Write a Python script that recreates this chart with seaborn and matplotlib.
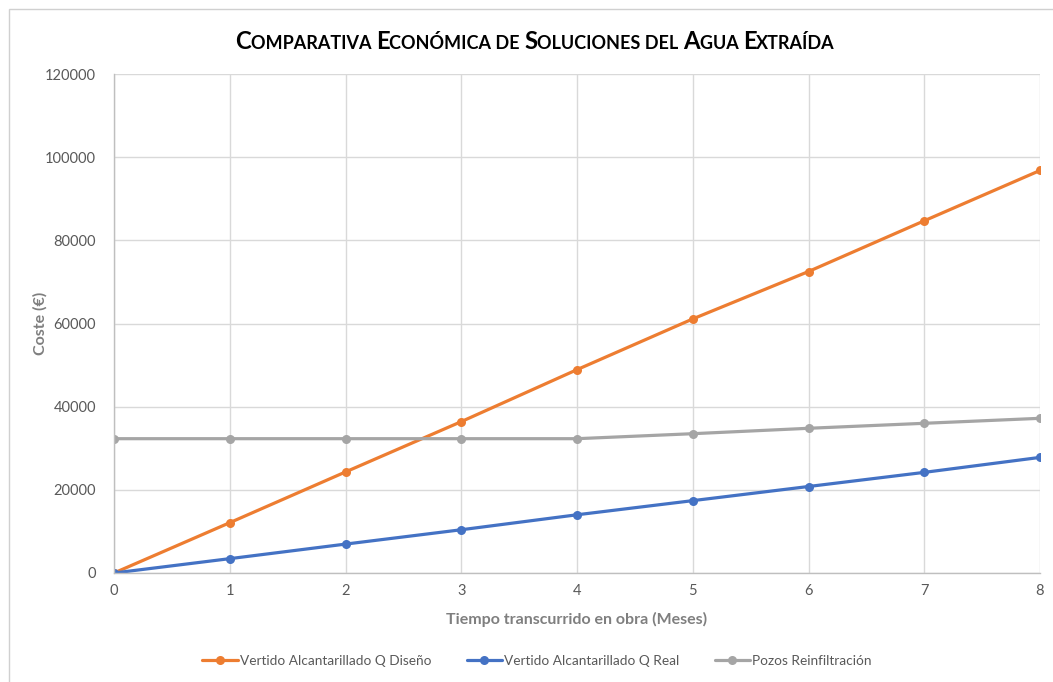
import matplotlib
matplotlib.use("Agg")
import matplotlib.pyplot as plt
import seaborn as sns
import pandas as pd
from matplotlib.patches import Rectangle

# Monthly cost of each water-disposal option (EUR)
meses = [0, 1, 2, 3, 4, 5, 6, 7, 8]
coste_q_diseno = [0, 12100, 24300, 36400, 48900, 61100, 72500, 84700, 96800]
coste_q_real = [0, 3450, 6950, 10400, 14000, 17400, 20800, 24200, 27800]
coste_pozos = [32300, 32300, 32300, 32300, 32300, 33500, 34800, 36000, 37200]

series = ["Vertido Alcantarillado Q Diseño", "Vertido Alcantarillado Q Real", "Pozos Reinfiltración"]
colores = ["#ED7D31", "#4472C4", "#A5A5A5"]

df = pd.concat([
    pd.DataFrame({"Mes": meses, "Coste": coste_q_diseno, "Serie": series[0]}),
    pd.DataFrame({"Mes": meses, "Coste": coste_q_real, "Serie": series[1]}),
    pd.DataFrame({"Mes": meses, "Coste": coste_pozos, "Serie": series[2]}),
])

sns.set_theme(style="white")
plt.rcParams["font.family"] = ["Lato", "DejaVu Sans"]

W, H = 1053, 682
fig = plt.figure(figsize=(W / 100, H / 100), dpi=100)
ax = fig.add_axes([114 / W, 1 - 573 / H, (1040 - 114) / W, (573 - 74) / H])

sns.lineplot(data=df, x="Mes", y="Coste", hue="Serie", hue_order=series,
             palette=colores, marker="o", markersize=6.5, markeredgewidth=0,
             linewidth=2.3, ax=ax, legend=True)

ax.set_xlim(0, 8)
ax.set_ylim(0, 120000)
ax.set_xticks(meses)
ax.set_yticks(range(0, 120001, 20000))
ax.grid(True, color="#d9d9d9", linewidth=1)
ax.set_axisbelow(True)
for s in ["top", "right"]:
    ax.spines[s].set_visible(False)
for s in ["left", "bottom"]:
    ax.spines[s].set_color("#bfbfbf")
    ax.spines[s].set_linewidth(1)
ax.tick_params(axis="both", length=0, labelsize=10.5, labelcolor="#595959", pad=8)
ax.tick_params(axis="y", pad=13)

ax.set_xlabel("Tiempo transcurrido en obra (Meses)", fontsize=11.5, fontweight="bold",
              color="#7f7f7f", labelpad=10)
ax.set_ylabel("Coste (€)", fontsize=11.5, fontweight="bold", color="#7f7f7f", labelpad=-2)

leg = ax.legend(loc="center", bbox_to_anchor=((537 - 114) / 926, (573 - 661) / 499),
                ncol=3, frameon=False, fontsize=9.8, columnspacing=2.6, handlelength=2.6,
                handletextpad=0.15, labelcolor="#595959")

# Chart border
fig.patches.append(Rectangle((9 / W, -0.1), 1.2, 1.1 - 9 / H, transform=fig.transFigure,
                             fill=False, edgecolor="#d0d0d0", linewidth=1))

# Title in small caps: capitals large, lowercase letters as smaller capitals
titulo = "Comparativa Económica de Soluciones del Agua Extraída"
big, small = 17.2, 13
pieces = []
for ch in titulo:
    if ch == " ":
        pieces.append((" ", small))
    elif ch.isupper():
        pieces.append((ch, big))
    else:
        pieces.append((ch.upper(), small))
# merge runs of the same size
runs = []
for txt, sz in pieces:
    if runs and runs[-1][1] == sz:
        runs[-1][0] += txt
    else:
        runs.append([txt, sz])

fig.canvas.draw()
renderer = fig.canvas.get_renderer()
texts = []
baseline_y = 1 - 49 / H
for txt, sz in runs:
    t = fig.text(0, baseline_y, txt, fontsize=sz, fontweight="bold", color="#000000",
                 va="baseline", ha="left")
    texts.append(t)
widths = [t.get_window_extent(renderer).width for t in texts]
total = sum(widths)
cur = 535 - total / 2
for t, w in zip(texts, widths):
    t.set_x(cur / W)
    cur += w

fig.savefig("out.png", dpi=100, facecolor="white")
